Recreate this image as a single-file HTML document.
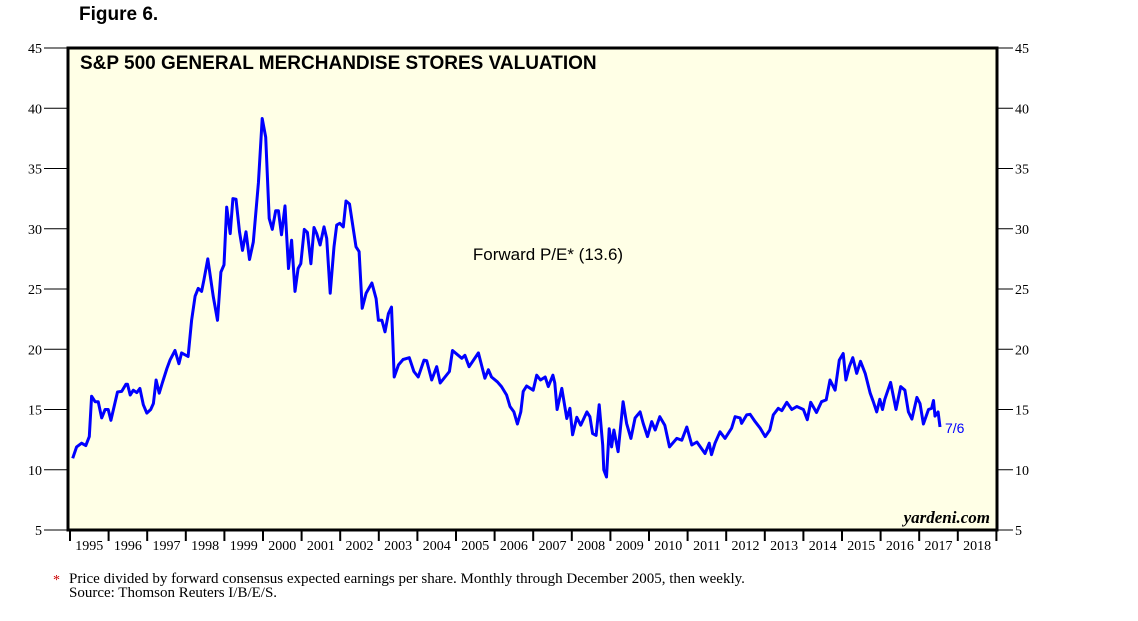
<!DOCTYPE html>
<html><head><meta charset="utf-8"><style>
html,body{margin:0;padding:0;background:#fff;}
svg{display:block;}
</style></head><body>
<svg id="chart" width="1138" height="621" viewBox="0 0 1138 621" xmlns="http://www.w3.org/2000/svg">
<text x="79" y="20" font-family="Liberation Sans, sans-serif" font-weight="bold" font-size="19">Figure 6.</text>
<rect x="68" y="48" width="929" height="482" fill="#ffffe6" stroke="#000" stroke-width="3"/>
<text x="80" y="69" font-family="Liberation Sans, sans-serif" font-weight="bold" font-size="19">S&amp;P 500 GENERAL MERCHANDISE STORES VALUATION</text>
<g id="yaxis"></g>
<g id="xaxis"></g>
<path id="line" fill="none" stroke="#0000ff" stroke-width="3" stroke-linejoin="round"/>
<text x="548" y="260" text-anchor="middle" font-family="Liberation Sans, sans-serif" font-size="17">Forward P/E* (13.6)</text>
<text x="945" y="433" font-family="Liberation Sans, sans-serif" font-size="14" fill="#0000ff">7/6</text>
<text x="990" y="523" text-anchor="end" font-family="Liberation Serif, serif" font-style="italic" font-weight="bold" font-size="17">yardeni.com</text>
<text x="53" y="584" font-family="Liberation Serif, serif" font-size="14" fill="#c00">*</text>
<text x="69" y="583" font-family="Liberation Serif, serif" font-size="15">Price divided by forward consensus expected earnings per share. Monthly through December 2005, then weekly.</text>
<text x="69" y="597" font-family="Liberation Serif, serif" font-size="15">Source: Thomson Reuters I/B/E/S.</text>
</svg>
<script>
const yTicks = [5,10,15,20,25,30,35,40,45];
const years = [1995,1996,1997,1998,1999,2000,2001,2002,2003,2004,2005,2006,2007,2008,2009,2010,2011,2012,2013,2014,2015,2016,2017,2018];
const dates = [1995.07,1995.17,1995.30,1995.41,1995.50,1995.56,1995.65,1995.73,1995.82,1995.91,1995.99,1996.06,1996.23,1996.34,1996.45,1996.49,1996.56,1996.64,1996.73,1996.81,1996.90,1996.99,1997.09,1997.16,1997.23,1997.31,1997.39,1997.51,1997.59,1997.72,1997.82,1997.89,1998.06,1998.15,1998.24,1998.32,1998.41,1998.47,1998.57,1998.71,1998.82,1998.91,1998.99,1999.06,1999.15,1999.22,1999.30,1999.39,1999.47,1999.56,1999.65,1999.75,1999.88,1999.98,2000.07,2000.16,2000.24,2000.33,2000.40,2000.48,2000.57,2000.66,2000.74,2000.83,2000.91,2000.98,2001.07,2001.15,2001.24,2001.32,2001.39,2001.48,2001.58,2001.65,2001.74,2001.84,2001.91,2001.99,2002.08,2002.15,2002.24,2002.41,2002.49,2002.57,2002.67,2002.82,2002.93,2002.99,2003.08,2003.16,2003.25,2003.33,2003.40,2003.51,2003.63,2003.79,2003.91,2004.02,2004.17,2004.24,2004.37,2004.50,2004.59,2004.83,2004.91,2005.15,2005.23,2005.34,2005.58,2005.75,2005.84,2005.92,2006.07,2006.18,2006.31,2006.40,2006.50,2006.59,2006.68,2006.74,2006.83,2007.00,2007.09,2007.19,2007.31,2007.39,2007.51,2007.56,2007.62,2007.74,2007.87,2007.95,2008.02,2008.13,2008.23,2008.39,2008.47,2008.54,2008.63,2008.71,2008.80,2008.83,2008.90,2008.97,2009.03,2009.09,2009.20,2009.33,2009.42,2009.53,2009.64,2009.77,2009.85,2009.96,2010.07,2010.16,2010.28,2010.41,2010.53,2010.72,2010.85,2010.98,2011.11,2011.24,2011.45,2011.56,2011.62,2011.71,2011.84,2011.97,2012.14,2012.23,2012.36,2012.40,2012.53,2012.62,2012.75,2012.88,2013.01,2013.13,2013.22,2013.35,2013.44,2013.57,2013.70,2013.83,2014.00,2014.10,2014.19,2014.34,2014.47,2014.59,2014.69,2014.82,2014.93,2015.03,2015.10,2015.19,2015.28,2015.38,2015.48,2015.60,2015.73,2015.81,2015.90,2015.98,2016.05,2016.11,2016.26,2016.40,2016.52,2016.63,2016.72,2016.81,2016.94,2017.02,2017.11,2017.24,2017.32,2017.37,2017.41,2017.49,2017.54];
const values = [10.95,11.9,12.2,12.0,12.75,16.1,15.65,15.65,14.3,15.0,15.0,14.1,16.45,16.5,17.1,17.1,16.2,16.6,16.4,16.75,15.4,14.7,15.0,15.5,17.45,16.35,17.2,18.4,19.1,19.9,18.8,19.7,19.4,22.4,24.4,25.05,24.8,25.75,27.5,24.4,22.4,26.4,27.0,31.8,29.6,32.5,32.45,29.75,28.2,29.75,27.45,28.9,33.8,39.15,37.6,30.85,29.95,31.5,31.5,29.5,31.9,26.7,29.05,24.8,26.7,27.1,29.95,29.7,27.1,30.1,29.6,28.65,30.15,29.2,24.65,28.5,30.3,30.45,30.15,32.3,32.05,28.5,28.1,23.4,24.65,25.5,24.2,22.4,22.4,21.45,22.95,23.5,17.7,18.7,19.15,19.3,18.15,17.7,19.1,19.05,17.45,18.55,17.2,18.15,19.9,19.25,19.5,18.55,19.7,17.6,18.3,17.7,17.3,16.9,16.2,15.25,14.8,13.8,14.8,16.5,16.95,16.6,17.85,17.45,17.7,16.9,17.85,17.2,15.0,16.75,14.25,15.1,12.9,14.35,13.7,14.8,14.4,13.0,12.85,15.4,12.05,10.0,9.4,13.4,11.9,13.3,11.5,15.65,13.85,12.6,14.3,14.8,13.85,12.75,14.0,13.3,14.4,13.7,11.9,12.6,12.45,13.55,12.05,12.3,11.35,12.2,11.25,12.2,13.15,12.6,13.45,14.4,14.3,13.85,14.55,14.6,14.0,13.45,12.75,13.3,14.55,15.1,14.9,15.6,15.0,15.25,15.0,14.15,15.6,14.75,15.65,15.8,17.45,16.6,19.1,19.65,17.45,18.55,19.3,18.0,19.0,18.0,16.35,15.65,14.8,15.85,15.0,15.85,17.25,15.0,16.9,16.6,14.8,14.2,16.0,15.5,13.8,15.0,15.1,15.75,14.45,14.8,13.55];

const NS = 'http://www.w3.org/2000/svg';
const x0 = 70, yearW = 38.6;
function xScale(d){ return x0 + (d - 1995) * yearW; }
function yScale(v){ return 530 - (v - 5) * (482 / 40); }

const ya = document.getElementById('yaxis');
yTicks.forEach(t => {
  const y = yScale(t);
  const l = document.createElementNS(NS,'line');
  l.setAttribute('x1',44); l.setAttribute('x2',67); l.setAttribute('y1',y); l.setAttribute('y2',y);
  l.setAttribute('stroke','#000'); l.setAttribute('stroke-width','1');
  
  
  ya.appendChild(l);
  const r = document.createElementNS(NS,'line');
  r.setAttribute('x1',998); r.setAttribute('x2',1013); r.setAttribute('y1',y); r.setAttribute('y2',y);
  r.setAttribute('stroke','#000'); r.setAttribute('stroke-width','1');
  
  
  ya.appendChild(r);
  const tl = document.createElementNS(NS,'text');
  tl.setAttribute('x',42); tl.setAttribute('y',y+5); tl.setAttribute('text-anchor','end');
  tl.setAttribute('font-family','Liberation Serif, serif'); tl.setAttribute('font-size','14');
  tl.textContent = t;
  
  
  ya.appendChild(tl);
  const tr = document.createElementNS(NS,'text');
  tr.setAttribute('x',1015); tr.setAttribute('y',y+5);
  tr.setAttribute('font-family','Liberation Serif, serif'); tr.setAttribute('font-size','14');
  tr.textContent = t;
  
  
  ya.appendChild(tr);
});

const xa = document.getElementById('xaxis');
years.forEach(yr => {
  const x = xScale(yr);
  const l = document.createElementNS(NS,'line');
  l.setAttribute('x1',x); l.setAttribute('x2',x); l.setAttribute('y1',531); l.setAttribute('y2',541);
  l.setAttribute('stroke','#000'); l.setAttribute('stroke-width','2');
  
  
  xa.appendChild(l);
  const t = document.createElementNS(NS,'text');
  t.setAttribute('x', x + yearW/2); t.setAttribute('y', 550); t.setAttribute('text-anchor','middle');
  t.setAttribute('font-family','Liberation Serif, serif'); t.setAttribute('font-size','14');
  t.textContent = yr;
  
  
  xa.appendChild(t);
});
{
  const x = xScale(2019);
  const l = document.createElementNS(NS,'line');
  l.setAttribute('x1',x); l.setAttribute('x2',x); l.setAttribute('y1',531); l.setAttribute('y2',541);
  l.setAttribute('stroke','#000'); l.setAttribute('stroke-width','2');
  
  
  xa.appendChild(l);
}

let d = '';
dates.forEach((dt,i) => { d += (i ? 'L' : 'M') + xScale(dt).toFixed(1) + ' ' + yScale(values[i]).toFixed(1); });
document.getElementById('line').setAttribute('d', d);
</script>
</body></html>
